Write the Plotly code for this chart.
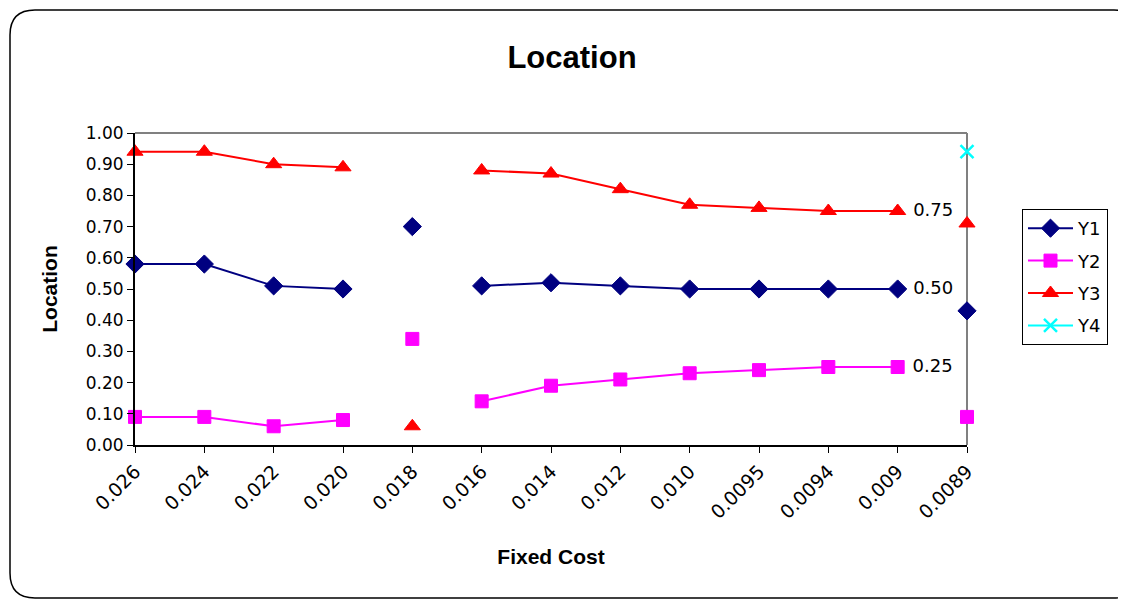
import plotly.graph_objects as go

# data
cost_labels = ["0.026", "0.024", "0.022", "0.020", "0.018", "0.016", "0.014",
               "0.012", "0.010", "0.0095", "0.0094", "0.009", "0.0089"]

y1 = [0.58, 0.58, 0.51, 0.50, 0.70, 0.51, 0.52, 0.51, 0.50, 0.50, 0.50, 0.50, 0.43]
y2 = [0.09, 0.09, 0.06, 0.08, 0.34, 0.14, 0.19, 0.21, 0.23, 0.24, 0.25, 0.25, 0.09]
y3 = [0.94, 0.94, 0.90, 0.89, 0.06, 0.88, 0.87, 0.82, 0.77, 0.76, 0.75, 0.75, 0.71]
y4 = [None] * 12 + [0.94]

# the lines are broken around 0.018 and before 0.0089
segments = [(0, 4), (4, 5), (5, 12), (12, 13)]
label_index = 11

FONT = "Arial, Liberation Sans, sans-serif"
TICK_FONT = "DejaVu Sans, sans-serif"

# page has an 8px body margin, so the figure is shifted by that much
OFF = 8
W, H = 1126 - OFF, 600 - OFF

# plot area in screen pixels
L, R, T, B = 135, 967, 133, 445


def px_x(p):
    return (p - L) / (R - L)


def px_y(p):
    return (B - p) / (B - T)


def with_breaks(vals):
    xs, ys, txt = [], [], []
    for a, b in segments:
        for i in range(a, b):
            xs.append(cost_labels[i])
            ys.append(vals[i])
            if i == label_index and vals[i] is not None:
                txt.append("\u00a0" + f"{vals[i]:.2f}")
            else:
                txt.append("")
        xs.append(None)
        ys.append(None)
        txt.append("")
    return xs, ys, txt


series = [
    ("Y1", y1, "#000080", "diamond", 14, 1),
    ("Y2", y2, "#FF00FF", "square", 13, 1),
    ("Y3", y3, "#FF0000", "triangle-up", 14, 1),
    ("Y4", y4, "#00FFFF", "x-thin", 13, 2.5),
]

fig = go.Figure()

for name, vals, color, symbol, size, mlw in series:
    xs, ys, txt = with_breaks(vals)
    fig.add_trace(
        go.Scatter(
            x=xs,
            y=ys,
            name=name,
            legendgroup=name,
            mode="lines+markers+text",
            text=txt,
            textposition="middle right",
            textfont=dict(family=TICK_FONT, size=18, color="black"),
            line=dict(color=color, width=2),
            marker=dict(symbol=symbol, size=size, color=color,
                        line=dict(color=color, width=mlw)),
            cliponaxis=False,
            connectgaps=False,
        )
    )

# rounded outer border
x0, x1 = px_x(10), px_x(1139)
y0, y1b = px_y(598), px_y(10)
rx = 25 / (R - L)
ry = 25 / (B - T)
border = (
    f"M {x0 + rx} {y1b} L {x1 - rx} {y1b} Q {x1} {y1b} {x1} {y1b - ry} "
    f"L {x1} {y0 + ry} Q {x1} {y0} {x1 - rx} {y0} "
    f"L {x0 + rx} {y0} Q {x0} {y0} {x0} {y0 + ry} "
    f"L {x0} {y1b - ry} Q {x0} {y1b} {x0 + rx} {y1b} Z"
)

fig.update_layout(
    width=W,
    height=H,
    margin=dict(l=L - OFF, r=1126 - R, t=T - OFF, b=600 - B, autoexpand=False),
    paper_bgcolor="white",
    plot_bgcolor="white",
    font=dict(family=FONT, size=17, color="black"),
    title=dict(
        text="<b>Location</b>",
        x=px_x(572),
        xref="paper",
        xanchor="center",
        y=1 - (57 - OFF) / H,
        yanchor="middle",
        font=dict(size=31, family=FONT),
    ),
    showlegend=True,
    legend=dict(
        xref="container",
        yref="container",
        x=(1022 - OFF) / W,
        y=1 - (209 - OFF) / H,
        xanchor="left",
        yanchor="top",
        bordercolor="black",
        borderwidth=1,
        bgcolor="white",
        font=dict(size=18, family=TICK_FONT),
        tracegroupgap=6,
        itemwidth=45,
    ),
    shapes=[
        dict(type="path", path=border, xref="paper", yref="paper",
             line=dict(color="black", width=1.5), layer="below"),
        dict(type="line", xref="paper", yref="paper", x0=0, x1=1, y0=1, y1=1,
             line=dict(color="#808080", width=2), layer="below"),
        dict(type="line", xref="paper", yref="paper", x0=1, x1=1, y0=0, y1=1,
             line=dict(color="#808080", width=2), layer="below"),
    ],
)

fig.update_xaxes(
    type="category",
    categoryorder="array",
    categoryarray=cost_labels,
    range=[0, len(cost_labels) - 1],
    showgrid=False,
    zeroline=False,
    showline=True,
    linecolor="black",
    linewidth=2,
    ticks="outside",
    ticklen=6,
    tickcolor="black",
    tickangle=-45,
    tickfont=dict(size=19, family=TICK_FONT),
    title=dict(text="<b>Fixed Cost</b>", font=dict(size=21, family=FONT), standoff=27),
)

fig.update_yaxes(
    range=[0, 1],
    dtick=0.1,
    tickformat=".2f",
    showgrid=False,
    zeroline=False,
    showline=True,
    linecolor="black",
    linewidth=2,
    ticks="outside",
    ticklen=6,
    tickcolor="black",
    tickfont=dict(size=17, family=TICK_FONT),
    title=dict(text="<b>Location</b>", font=dict(size=21, family=FONT), standoff=22),
)

fig.write_html("out.html")
